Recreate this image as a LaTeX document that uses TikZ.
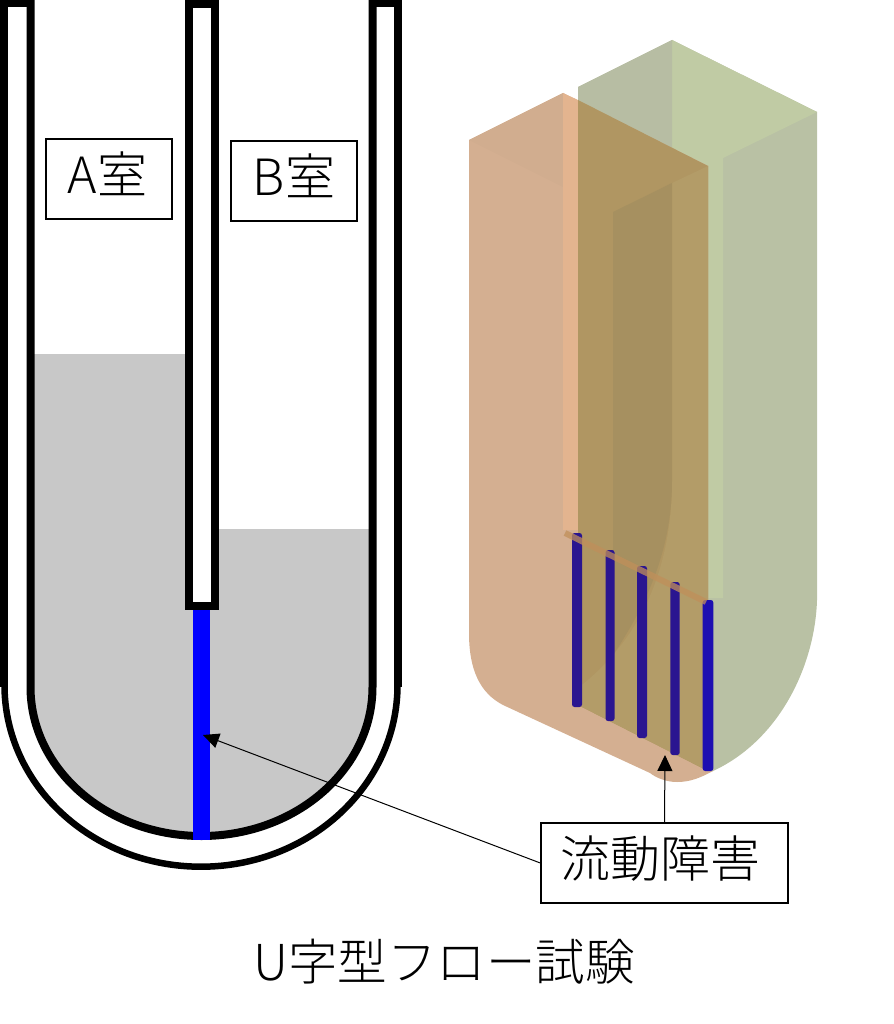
\documentclass[tikz,border=0pt]{standalone}
\usepackage{fontspec}
\setmainfont{Noto Sans CJK JP Light}
\usetikzlibrary{arrows.meta}
\definecolor{wat}{HTML}{C8C8C8}
\definecolor{orA}{HTML}{D4AF91}
\definecolor{orB}{HTML}{D1AD8F}
\definecolor{orS}{HTML}{E3B48F}
\definecolor{ovA}{HTML}{B09662}
\definecolor{ovB}{HTML}{A69060}
\definecolor{ovC}{HTML}{B39C68}
\definecolor{grA}{HTML}{B9C1A4}
\definecolor{grB}{HTML}{C0CBA4}
\definecolor{grC}{HTML}{B7BDA3}
\definecolor{barc}{HTML}{2A1590}
\definecolor{edgec}{HTML}{C08F5A}
\tikzset{
 wall/.style={draw=black,line width=8pt,fill=white,line join=miter},
 lab/.style={draw=black,line width=1.4pt,fill=white,inner sep=0pt,font=\fontsize{50}{54}\selectfont,align=center,text height=38pt,text depth=9pt},
 arr/.style={draw=black,line width=1pt,-{Triangle[length=16pt,width=15pt]}},
 rod/.style={rounded corners=2.5pt}
}
\begin{document}
\begin{tikzpicture}[x=1pt,y=-1pt]
\useasboundingbox (0,0) rectangle (893,1024);
% --- U tube
\fill[wat] (30,354) -- (218,354) -- (218,529) -- (372,529) -- (372,687) arc[start angle=0,end angle=180,x radius=171,y radius=150] -- cycle;
% walls
\draw[black,line width=8pt] (3.7,0) -- (3.7,687);
\draw[black,line width=8pt] (398,0) -- (398,687);
\draw[black,line width=6.5pt] (4.5,685) arc[start angle=180,end angle=0,x radius=196.5,y radius=181.7];
\draw[black,line width=8pt] (30.5,0) -- (30.5,687) arc[start angle=180,end angle=0,x radius=171,y radius=149] -- (372.5,0);
\draw[black,line width=7pt] (4,3.5) -- (30,3.5) (372,3.5) -- (398,3.5);
% centre wall
\draw[wall] (189,4) rectangle (215,606);
\fill[blue] (193,610) rectangle (210,840);
% --- 3D body: green
\fill[grA] (578,87) -- (672,40) -- (817,112) -- (817,600) .. controls (815,665) and (780,740) .. (713,771) -- (708,771) -- (578,705) -- cycle;
\fill[grB] (672,40) -- (817,112) -- (723,158) -- (723,598) -- (708,598) -- (708,166) -- (672,148) -- cycle;
\fill[grC] (578,87) -- (672,40) -- (672,148) -- (578,102) -- cycle;
% --- orange
\fill[orA] (469,140) -- (563,93) -- (708,166) -- (708,771) -- (713,771) .. controls (700,778) and (690,782) .. (677,782) .. controls (665,782) and (655,777) .. (650,773) -- (503,705) .. controls (480,693) and (469,670) .. (469,633) -- cycle;
\fill[orB] (469,140) -- (563,93) -- (563,187) -- cycle;
\fill[orS] (563,93) -- (578,100) -- (578,530) -- (563,530) -- cycle;
% --- overlap
\fill[ovA] (578,100) -- (708,166) -- (708,771) -- (578,705) -- cycle;
\fill[ovC] (672,183) -- (708,166) -- (708,771) -- (578,705) -- (578,688) .. controls (640,640) and (672,570) .. (672,480) -- cycle;
\fill[ovB] (613,212) -- (672,183) -- (672,480) .. controls (672,530) and (660,585) .. (613,655) -- cycle;
% --- rods
\fill[rod,barc] (572,533) rectangle (582,707);
\fill[rod,barc] (605.5,550) rectangle (614.5,721);
\fill[rod,barc] (637,566) rectangle (647,738);
\fill[rod,barc] (670.3,582) rectangle (679.7,755);
\fill[rod,blue!30!barc] (702.7,600) rectangle (713.3,771);
% --- top edge
\draw[line width=6pt,color=edgec,opacity=0.75] (565,533) -- (706,602);
% --- labels
\node[lab,minimum width=126pt,minimum height=80pt] (a) at (109,179) {\hspace*{-3pt}A室};
\node[lab,minimum width=126pt,minimum height=80pt] (b) at (294,181) {B室};
\node[lab,minimum width=247pt,minimum height=80pt] (c) at (664.5,863) {\hspace*{-9pt}流動障害};
\node[font=\fontsize{49.5}{52}\selectfont,inner sep=0pt] (t) at (444,962) {U字型フロー試験};
\coordinate (p1) at (203,735);
\coordinate (p2) at (665,755);
\draw[arr] (c.west) -- (p1);
\draw[arr] (c.north) -- (p2);
\end{tikzpicture}
\end{document}
